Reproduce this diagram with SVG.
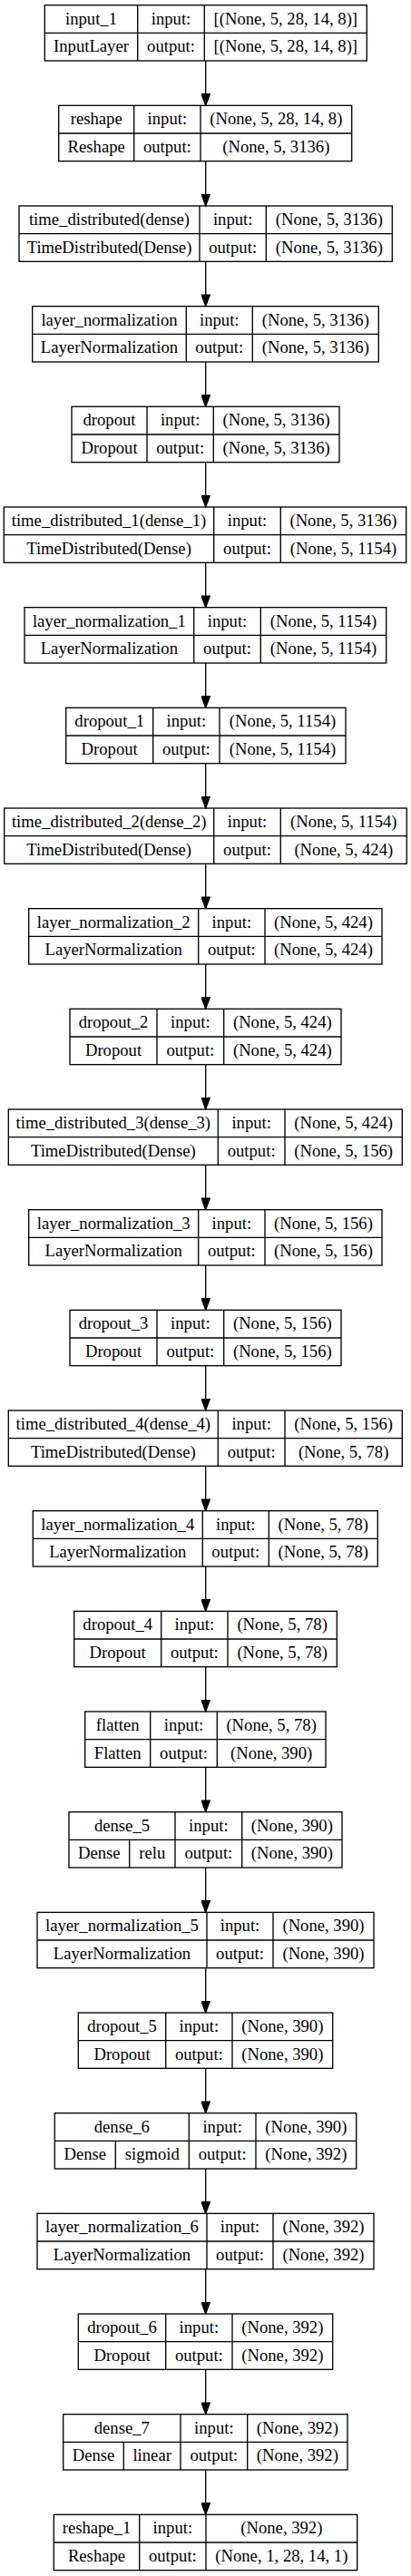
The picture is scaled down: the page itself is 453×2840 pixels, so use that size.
<svg xmlns="http://www.w3.org/2000/svg" width="453" height="2840" viewBox="0 0 453 2840">
<style>
.box{fill:none;stroke:#000;stroke-width:1.33}
.t{font-family:"Liberation Serif","Times New Roman",serif;font-size:18.67px;text-anchor:middle;fill:#000}
.e{fill:none;stroke:#000;stroke-width:1.33}
</style>
<defs>
<marker id="ah" markerUnits="userSpaceOnUse" viewBox="0 0 14 10" refX="13.33" refY="5" markerWidth="14" markerHeight="10" orient="auto">
<path d="M0.67,0.33 L13.33,5 L0.67,9.67 Z" fill="#000" stroke="#000" stroke-width="1.2"/>
</marker>
</defs>
<rect width="453" height="2840" fill="#fff"/>
<g id="connectors">
<path class="e" marker-end="url(#ah)" d="M226.67 67V116.33"/>
<path class="e" marker-end="url(#ah)" d="M226.67 177.67V227"/>
<path class="e" marker-end="url(#ah)" d="M226.67 288.33V337.67"/>
<path class="e" marker-end="url(#ah)" d="M226.67 399V448.33"/>
<path class="e" marker-end="url(#ah)" d="M226.67 509.67V559"/>
<path class="e" marker-end="url(#ah)" d="M226.67 620.33V669.67"/>
<path class="e" marker-end="url(#ah)" d="M226.67 731V780.33"/>
<path class="e" marker-end="url(#ah)" d="M226.67 841.67V891"/>
<path class="e" marker-end="url(#ah)" d="M226.67 952.33V1001.67"/>
<path class="e" marker-end="url(#ah)" d="M226.67 1063V1112.33"/>
<path class="e" marker-end="url(#ah)" d="M226.67 1173.67V1223"/>
<path class="e" marker-end="url(#ah)" d="M226.67 1284.33V1333.67"/>
<path class="e" marker-end="url(#ah)" d="M226.67 1395V1444.33"/>
<path class="e" marker-end="url(#ah)" d="M226.67 1505.67V1555"/>
<path class="e" marker-end="url(#ah)" d="M226.67 1616.33V1665.67"/>
<path class="e" marker-end="url(#ah)" d="M226.67 1727V1776.33"/>
<path class="e" marker-end="url(#ah)" d="M226.67 1837.67V1887"/>
<path class="e" marker-end="url(#ah)" d="M226.67 1948.33V1997.67"/>
<path class="e" marker-end="url(#ah)" d="M226.67 2059V2108.33"/>
<path class="e" marker-end="url(#ah)" d="M226.67 2169.67V2219"/>
<path class="e" marker-end="url(#ah)" d="M226.67 2280.33V2329.67"/>
<path class="e" marker-end="url(#ah)" d="M226.67 2391V2440.33"/>
<path class="e" marker-end="url(#ah)" d="M226.67 2501.67V2551"/>
<path class="e" marker-end="url(#ah)" d="M226.67 2612.33V2661.67"/>
<path class="e" marker-end="url(#ah)" d="M226.67 2723V2772.33"/>
</g>

<g id="input_1">
<rect class="box" x="49.3" y="5.67" width="355" height="61.33"/>
<path class="box" d="M151.7 5.67V67M225.3 5.67V67M49.3 36.33H404.3"/>
<text class="t" x="100.5" y="26.57">input_1</text><text class="t" x="188.5" y="26.57">input:</text><text class="t" x="314.8" y="26.57">[(None, 5, 28, 14, 8)]</text>
<text class="t" x="100.5" y="57.27">InputLayer</text><text class="t" x="188.5" y="57.27">output:</text><text class="t" x="314.8" y="57.27">[(None, 5, 28, 14, 8)]</text>
</g>

<g id="reshape">
<rect class="box" x="64.7" y="116.33" width="323" height="61.33"/>
<path class="box" d="M147.7 116.33V177.67M221 116.33V177.67M64.7 147H387.7"/>
<text class="t" x="106.2" y="137.23">reshape</text><text class="t" x="184.35" y="137.23">input:</text><text class="t" x="304.35" y="137.23">(None, 5, 28, 14, 8)</text>
<text class="t" x="106.2" y="167.93">Reshape</text><text class="t" x="184.35" y="167.93">output:</text><text class="t" x="304.35" y="167.93">(None, 5, 3136)</text>
</g>

<g id="time_distributed">
<rect class="box" x="21" y="227" width="411.3" height="61.33"/>
<path class="box" d="M220 227V288.33M293.3 227V288.33M21 257.67H432.3"/>
<text class="t" x="120.5" y="247.9">time_distributed(dense)</text><text class="t" x="256.65" y="247.9">input:</text><text class="t" x="362.8" y="247.9">(None, 5, 3136)</text>
<text class="t" x="120.5" y="278.6">TimeDistributed(Dense)</text><text class="t" x="256.65" y="278.6">output:</text><text class="t" x="362.8" y="278.6">(None, 5, 3136)</text>
</g>

<g id="layer_normalization">
<rect class="box" x="35.7" y="337.67" width="381.6" height="61.33"/>
<path class="box" d="M205.3 337.67V399M278.3 337.67V399M35.7 368.33H417.3"/>
<text class="t" x="120.5" y="358.57">layer_normalization</text><text class="t" x="241.8" y="358.57">input:</text><text class="t" x="347.8" y="358.57">(None, 5, 3136)</text>
<text class="t" x="120.5" y="389.27">LayerNormalization</text><text class="t" x="241.8" y="389.27">output:</text><text class="t" x="347.8" y="389.27">(None, 5, 3136)</text>
</g>

<g id="dropout">
<rect class="box" x="79" y="448.33" width="295" height="61.33"/>
<path class="box" d="M162 448.33V509.67M235.3 448.33V509.67M79 479H374"/>
<text class="t" x="120.5" y="469.23">dropout</text><text class="t" x="198.65" y="469.23">input:</text><text class="t" x="304.65" y="469.23">(None, 5, 3136)</text>
<text class="t" x="120.5" y="499.93">Dropout</text><text class="t" x="198.65" y="499.93">output:</text><text class="t" x="304.65" y="499.93">(None, 5, 3136)</text>
</g>

<g id="time_distributed_1">
<rect class="box" x="4.3" y="559" width="443.4" height="61.33"/>
<path class="box" d="M235.7 559V620.33M309.3 559V620.33M4.3 589.67H447.7"/>
<text class="t" x="120" y="579.9">time_distributed_1(dense_1)</text><text class="t" x="272.5" y="579.9">input:</text><text class="t" x="378.5" y="579.9">(None, 5, 3136)</text>
<text class="t" x="120" y="610.6">TimeDistributed(Dense)</text><text class="t" x="272.5" y="610.6">output:</text><text class="t" x="378.5" y="610.6">(None, 5, 1154)</text>
</g>

<g id="layer_normalization_1">
<rect class="box" x="27" y="669.67" width="398.7" height="61.33"/>
<path class="box" d="M213.7 669.67V731M287.3 669.67V731M27 700.33H425.7"/>
<text class="t" x="120.35" y="690.57">layer_normalization_1</text><text class="t" x="250.5" y="690.57">input:</text><text class="t" x="356.5" y="690.57">(None, 5, 1154)</text>
<text class="t" x="120.35" y="721.27">LayerNormalization</text><text class="t" x="250.5" y="721.27">output:</text><text class="t" x="356.5" y="721.27">(None, 5, 1154)</text>
</g>

<g id="dropout_1">
<rect class="box" x="72.7" y="780.33" width="308.3" height="61.33"/>
<path class="box" d="M168.7 780.33V841.67M242 780.33V841.67M72.7 811H381"/>
<text class="t" x="120.7" y="801.23">dropout_1</text><text class="t" x="205.35" y="801.23">input:</text><text class="t" x="311.5" y="801.23">(None, 5, 1154)</text>
<text class="t" x="120.7" y="831.93">Dropout</text><text class="t" x="205.35" y="831.93">output:</text><text class="t" x="311.5" y="831.93">(None, 5, 1154)</text>
</g>

<g id="time_distributed_2">
<rect class="box" x="4.7" y="891" width="443.6" height="61.33"/>
<path class="box" d="M235.7 891V952.33M309.3 891V952.33M4.7 921.67H448.3"/>
<text class="t" x="120.2" y="911.9">time_distributed_2(dense_2)</text><text class="t" x="272.5" y="911.9">input:</text><text class="t" x="378.8" y="911.9">(None, 5, 1154)</text>
<text class="t" x="120.2" y="942.6">TimeDistributed(Dense)</text><text class="t" x="272.5" y="942.6">output:</text><text class="t" x="378.8" y="942.6">(None, 5, 424)</text>
</g>

<g id="layer_normalization_2">
<rect class="box" x="31.7" y="1001.67" width="389.3" height="61.33"/>
<path class="box" d="M218.7 1001.67V1063M292 1001.67V1063M31.7 1032.33H421"/>
<text class="t" x="125.2" y="1022.57">layer_normalization_2</text><text class="t" x="255.35" y="1022.57">input:</text><text class="t" x="356.5" y="1022.57">(None, 5, 424)</text>
<text class="t" x="125.2" y="1053.27">LayerNormalization</text><text class="t" x="255.35" y="1053.27">output:</text><text class="t" x="356.5" y="1053.27">(None, 5, 424)</text>
</g>

<g id="dropout_2">
<rect class="box" x="77" y="1112.33" width="299" height="61.33"/>
<path class="box" d="M173 1112.33V1173.67M246.7 1112.33V1173.67M77 1143H376"/>
<text class="t" x="125" y="1133.23">dropout_2</text><text class="t" x="209.85" y="1133.23">input:</text><text class="t" x="311.35" y="1133.23">(None, 5, 424)</text>
<text class="t" x="125" y="1163.93">Dropout</text><text class="t" x="209.85" y="1163.93">output:</text><text class="t" x="311.35" y="1163.93">(None, 5, 424)</text>
</g>

<g id="time_distributed_3">
<rect class="box" x="9.3" y="1223" width="434" height="61.33"/>
<path class="box" d="M240.3 1223V1284.33M314 1223V1284.33M9.3 1253.67H443.3"/>
<text class="t" x="124.8" y="1243.9">time_distributed_3(dense_3)</text><text class="t" x="277.15" y="1243.9">input:</text><text class="t" x="378.65" y="1243.9">(None, 5, 424)</text>
<text class="t" x="124.8" y="1274.6">TimeDistributed(Dense)</text><text class="t" x="277.15" y="1274.6">output:</text><text class="t" x="378.65" y="1274.6">(None, 5, 156)</text>
</g>

<g id="layer_normalization_3">
<rect class="box" x="31.7" y="1333.67" width="389.3" height="61.33"/>
<path class="box" d="M218.7 1333.67V1395M292 1333.67V1395M31.7 1364.33H421"/>
<text class="t" x="125.2" y="1354.57">layer_normalization_3</text><text class="t" x="255.35" y="1354.57">input:</text><text class="t" x="356.5" y="1354.57">(None, 5, 156)</text>
<text class="t" x="125.2" y="1385.27">LayerNormalization</text><text class="t" x="255.35" y="1385.27">output:</text><text class="t" x="356.5" y="1385.27">(None, 5, 156)</text>
</g>

<g id="dropout_3">
<rect class="box" x="77" y="1444.33" width="299" height="61.33"/>
<path class="box" d="M173 1444.33V1505.67M246.7 1444.33V1505.67M77 1475H376"/>
<text class="t" x="125" y="1465.23">dropout_3</text><text class="t" x="209.85" y="1465.23">input:</text><text class="t" x="311.35" y="1465.23">(None, 5, 156)</text>
<text class="t" x="125" y="1495.93">Dropout</text><text class="t" x="209.85" y="1495.93">output:</text><text class="t" x="311.35" y="1495.93">(None, 5, 156)</text>
</g>

<g id="time_distributed_4">
<rect class="box" x="9.3" y="1555" width="434" height="61.33"/>
<path class="box" d="M240.3 1555V1616.33M314 1555V1616.33M9.3 1585.67H443.3"/>
<text class="t" x="124.8" y="1575.9">time_distributed_4(dense_4)</text><text class="t" x="277.15" y="1575.9">input:</text><text class="t" x="378.65" y="1575.9">(None, 5, 156)</text>
<text class="t" x="124.8" y="1606.6">TimeDistributed(Dense)</text><text class="t" x="277.15" y="1606.6">output:</text><text class="t" x="378.65" y="1606.6">(None, 5, 78)</text>
</g>

<g id="layer_normalization_4">
<rect class="box" x="36.3" y="1665.67" width="380" height="61.33"/>
<path class="box" d="M223.3 1665.67V1727M296.3 1665.67V1727M36.3 1696.33H416.3"/>
<text class="t" x="129.8" y="1686.57">layer_normalization_4</text><text class="t" x="259.8" y="1686.57">input:</text><text class="t" x="356.3" y="1686.57">(None, 5, 78)</text>
<text class="t" x="129.8" y="1717.27">LayerNormalization</text><text class="t" x="259.8" y="1717.27">output:</text><text class="t" x="356.3" y="1717.27">(None, 5, 78)</text>
</g>

<g id="dropout_4">
<rect class="box" x="81.7" y="1776.33" width="289.6" height="61.33"/>
<path class="box" d="M177.7 1776.33V1837.67M251 1776.33V1837.67M81.7 1807H371.3"/>
<text class="t" x="129.7" y="1797.23">dropout_4</text><text class="t" x="214.35" y="1797.23">input:</text><text class="t" x="311.15" y="1797.23">(None, 5, 78)</text>
<text class="t" x="129.7" y="1827.93">Dropout</text><text class="t" x="214.35" y="1827.93">output:</text><text class="t" x="311.15" y="1827.93">(None, 5, 78)</text>
</g>

<g id="flatten">
<rect class="box" x="93.7" y="1887" width="265.3" height="61.33"/>
<path class="box" d="M165.7 1887V1948.33M239.3 1887V1948.33M93.7 1917.67H359"/>
<text class="t" x="129.7" y="1907.9">flatten</text><text class="t" x="202.5" y="1907.9">input:</text><text class="t" x="299.15" y="1907.9">(None, 5, 78)</text>
<text class="t" x="129.7" y="1938.6">Flatten</text><text class="t" x="202.5" y="1938.6">output:</text><text class="t" x="299.15" y="1938.6">(None, 390)</text>
</g>

<g id="dense_5">
<rect class="box" x="76" y="1997.67" width="301" height="61.33"/>
<path class="box" d="M193 1997.67V2059M266.7 1997.67V2059M76 2028.33H377M142.7 2028.33V2059"/>
<text class="t" x="134.5" y="2018.57">dense_5</text><text class="t" x="229.85" y="2018.57">input:</text><text class="t" x="321.85" y="2018.57">(None, 390)</text>
<text class="t" x="109.35" y="2049.27">Dense</text><text class="t" x="167.85" y="2049.27">relu</text><text class="t" x="229.85" y="2049.27">output:</text><text class="t" x="321.85" y="2049.27">(None, 390)</text>
</g>

<g id="layer_normalization_5">
<rect class="box" x="41" y="2108.33" width="371" height="61.33"/>
<path class="box" d="M228 2108.33V2169.67M301 2108.33V2169.67M41 2139H412"/>
<text class="t" x="134.5" y="2129.23">layer_normalization_5</text><text class="t" x="264.5" y="2129.23">input:</text><text class="t" x="356.5" y="2129.23">(None, 390)</text>
<text class="t" x="134.5" y="2159.93">LayerNormalization</text><text class="t" x="264.5" y="2159.93">output:</text><text class="t" x="356.5" y="2159.93">(None, 390)</text>
</g>

<g id="dropout_5">
<rect class="box" x="86.3" y="2219" width="280.4" height="61.33"/>
<path class="box" d="M182.7 2219V2280.33M256 2219V2280.33M86.3 2249.67H366.7"/>
<text class="t" x="134.5" y="2239.9">dropout_5</text><text class="t" x="219.35" y="2239.9">input:</text><text class="t" x="311.35" y="2239.9">(None, 390)</text>
<text class="t" x="134.5" y="2270.6">Dropout</text><text class="t" x="219.35" y="2270.6">output:</text><text class="t" x="311.35" y="2270.6">(None, 390)</text>
</g>

<g id="dense_6">
<rect class="box" x="60.3" y="2329.67" width="332.4" height="61.33"/>
<path class="box" d="M208.3 2329.67V2391M282 2329.67V2391M60.3 2360.33H392.7M127.3 2360.33V2391"/>
<text class="t" x="134.3" y="2350.57">dense_6</text><text class="t" x="245.15" y="2350.57">input:</text><text class="t" x="337.35" y="2350.57">(None, 390)</text>
<text class="t" x="93.8" y="2381.27">Dense</text><text class="t" x="167.8" y="2381.27">sigmoid</text><text class="t" x="245.15" y="2381.27">output:</text><text class="t" x="337.35" y="2381.27">(None, 392)</text>
</g>

<g id="layer_normalization_6">
<rect class="box" x="41" y="2440.33" width="371" height="61.33"/>
<path class="box" d="M228 2440.33V2501.67M301 2440.33V2501.67M41 2471H412"/>
<text class="t" x="134.5" y="2461.23">layer_normalization_6</text><text class="t" x="264.5" y="2461.23">input:</text><text class="t" x="356.5" y="2461.23">(None, 392)</text>
<text class="t" x="134.5" y="2491.93">LayerNormalization</text><text class="t" x="264.5" y="2491.93">output:</text><text class="t" x="356.5" y="2491.93">(None, 392)</text>
</g>

<g id="dropout_6">
<rect class="box" x="86.3" y="2551" width="280.4" height="61.33"/>
<path class="box" d="M182.7 2551V2612.33M256 2551V2612.33M86.3 2581.67H366.7"/>
<text class="t" x="134.5" y="2571.9">dropout_6</text><text class="t" x="219.35" y="2571.9">input:</text><text class="t" x="311.35" y="2571.9">(None, 392)</text>
<text class="t" x="134.5" y="2602.6">Dropout</text><text class="t" x="219.35" y="2602.6">output:</text><text class="t" x="311.35" y="2602.6">(None, 392)</text>
</g>

<g id="dense_7">
<rect class="box" x="69.7" y="2661.67" width="313.3" height="61.33"/>
<path class="box" d="M199 2661.67V2723M272.7 2661.67V2723M69.7 2692.33H383M136.3 2692.33V2723"/>
<text class="t" x="134.35" y="2682.57">dense_7</text><text class="t" x="235.85" y="2682.57">input:</text><text class="t" x="327.85" y="2682.57">(None, 392)</text>
<text class="t" x="103" y="2713.27">Dense</text><text class="t" x="167.65" y="2713.27">linear</text><text class="t" x="235.85" y="2713.27">output:</text><text class="t" x="327.85" y="2713.27">(None, 392)</text>
</g>

<g id="reshape_1">
<rect class="box" x="59.3" y="2772.33" width="334.4" height="61.33"/>
<path class="box" d="M153.7 2772.33V2833.67M227 2772.33V2833.67M59.3 2803H393.7"/>
<text class="t" x="106.5" y="2793.23">reshape_1</text><text class="t" x="190.35" y="2793.23">input:</text><text class="t" x="310.35" y="2793.23">(None, 392)</text>
<text class="t" x="106.5" y="2823.93">Reshape</text><text class="t" x="190.35" y="2823.93">output:</text><text class="t" x="310.35" y="2823.93">(None, 1, 28, 14, 1)</text>
</g>
</svg>
